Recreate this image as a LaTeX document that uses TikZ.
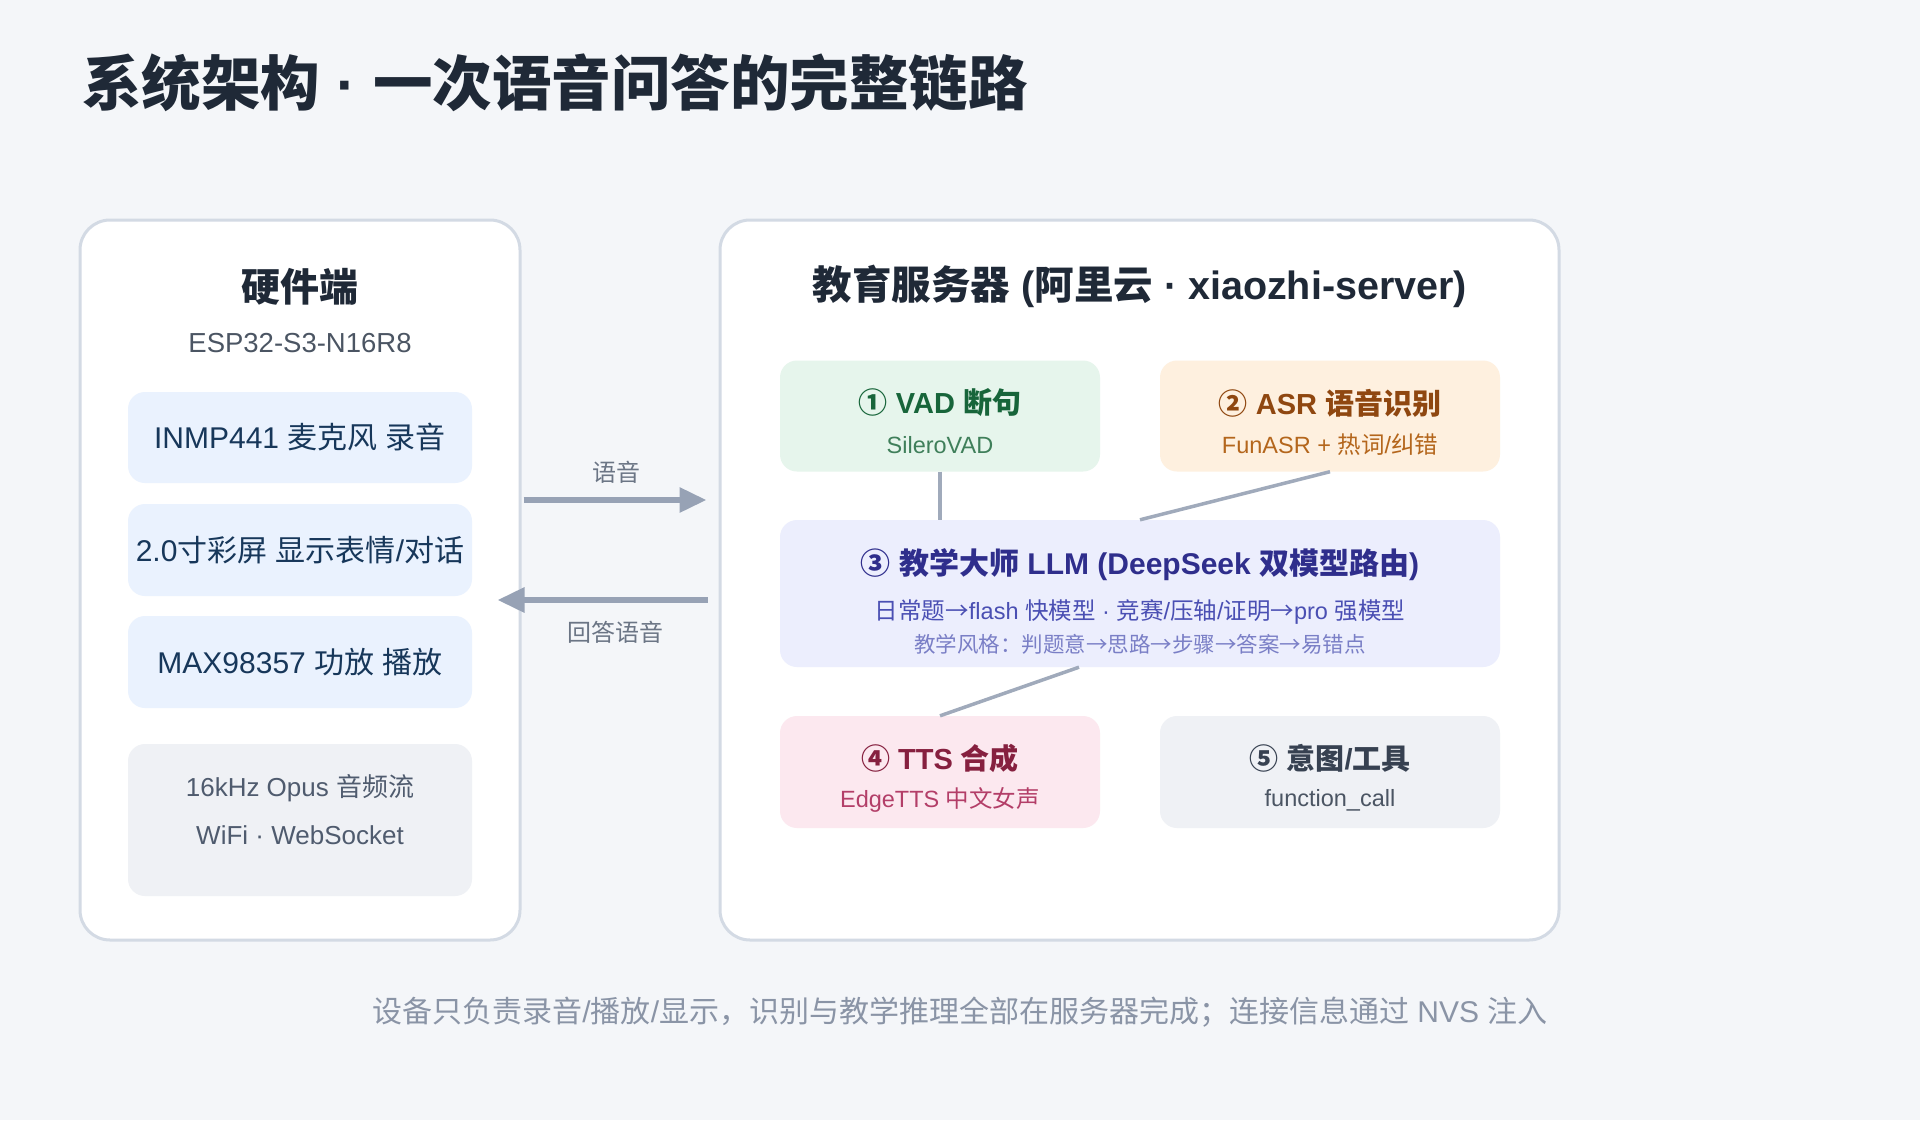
\documentclass[tikz,border=0pt]{standalone}
\usepackage{fontspec}
\setmainfont{Liberation Sans}
\newfontfamily\latfam{Liberation Sans}
\newfontfamily\cjkfam{Noto Sans CJK SC}
\usetikzlibrary{arrows.meta,calc}

\XeTeXinterchartokenstate=1
\newXeTeXintercharclass\CJKcls
\newcount\cjkcnt
\cjkcnt="2E80
\loop\ifnum\cjkcnt<"A000 \XeTeXcharclass\cjkcnt=\CJKcls \advance\cjkcnt by 1 \repeat
\cjkcnt="FF00
\loop\ifnum\cjkcnt<"FFF0 \XeTeXcharclass\cjkcnt=\CJKcls \advance\cjkcnt by 1 \repeat
\cjkcnt="2460
\loop\ifnum\cjkcnt<"2474 \XeTeXcharclass\cjkcnt=\CJKcls \advance\cjkcnt by 1 \repeat
\XeTeXcharclass"2192=\CJKcls
\XeTeXinterchartoks 0 \CJKcls={\cjkfam}
\XeTeXinterchartoks 4095 \CJKcls={\cjkfam}
\XeTeXinterchartoks \CJKcls 0={\latfam}
\XeTeXinterchartoks \CJKcls 4095={\latfam}

\definecolor{bgc}{HTML}{F4F6F9}
\definecolor{panelline}{HTML}{D3DAE4}
\definecolor{titlec}{HTML}{1F2937}
\definecolor{subgray}{HTML}{4B5563}
\definecolor{hwfill}{HTML}{EAF2FE}
\definecolor{hwtext}{HTML}{17375A}
\definecolor{grayfill}{HTML}{EFF1F5}
\definecolor{graytext}{HTML}{4F5B6E}
\definecolor{arrowc}{HTML}{97A2B5}
\definecolor{labc}{HTML}{6B7585}
\definecolor{linkc}{HTML}{A0AABB}
\definecolor{footc}{HTML}{8A94A6}
\definecolor{vadfill}{HTML}{E6F5EC}
\definecolor{vadt}{HTML}{17653A}
\definecolor{vads}{HTML}{3F7F5A}
\definecolor{asrfill}{HTML}{FEF0DF}
\definecolor{asrt}{HTML}{8F4710}
\definecolor{asrs}{HTML}{B4661C}
\definecolor{llmfill}{HTML}{ECEEFD}
\definecolor{llmt}{HTML}{2F2E8C}
\definecolor{llms}{HTML}{4A4FB3}
\definecolor{llmn}{HTML}{7A7FC6}
\definecolor{ttsfill}{HTML}{FCE8EF}
\definecolor{ttst}{HTML}{86203F}
\definecolor{ttss}{HTML}{B33E68}
\definecolor{intt}{HTML}{374151}

\tikzset{
  panel/.style={draw=panelline, line width=3pt, fill=white, rounded corners=30pt, inner sep=0pt},
  card/.style={rounded corners=17pt, inner sep=0pt},
  hwbox/.style={card, fill=hwfill, minimum width=344pt, text=hwtext, font=\fontsize{30}{34}\selectfont},
  txt/.style={inner sep=0pt},
  boxtitle/.style={txt, font=\bfseries\fontsize{29}{34}\selectfont},
  boxsub/.style={txt, font=\fontsize{23.5}{28}\selectfont},
  flow/.style={draw=arrowc, line width=6pt, -{Triangle[length=27pt,width=24pt]}},
  link/.style={draw=linkc, line width=3.5pt},
}

\begin{document}
\begin{tikzpicture}[x=1pt,y=-1pt]
\fill[bgc] (0,0) rectangle (1920,1120);
\useasboundingbox (0,0) rectangle (1920,1120);

\node[txt, anchor=west, text=titlec, font=\bfseries\fontsize{59.5}{64}\selectfont] (title) at (82,83) {系统架构 · 一次语音问答的完整链路};

% panels
\node[panel, minimum width=440pt, minimum height=720pt] (hw) at (300,580) {};
\node[panel, minimum width=839pt, minimum height=720pt] (srv) at (1139.5,580) {};

% hardware side
\node[txt, text=titlec, font=\bfseries\fontsize{39}{44}\selectfont] (hwt) at (300,287) {硬件端};
\node[txt, text=subgray, font=\fontsize{27.5}{32}\selectfont] (hws) at (300,343) {ESP32-S3-N16R8};
\node[hwbox, minimum height=91pt] (mic) at (300,437.5) {INMP441 麦克风 录音};
\node[hwbox, minimum height=92pt] (lcd) at (300,550) {2.0寸彩屏 显示表情/对话};
\node[hwbox, minimum height=92pt] (amp) at (300,662) {MAX98357 功放 播放};
\node[card, fill=grayfill, minimum width=344pt, minimum height=152pt] (net) at (300,820) {};
\node[txt, text=graytext, font=\fontsize{26}{30}\selectfont] (net1) at (300,788) {16kHz Opus 音频流};
\node[txt, text=graytext, font=\fontsize{26}{30}\selectfont] (net2) at (300,835) {WiFi · WebSocket};

% server side
\node[txt, text=titlec, font=\bfseries\fontsize{39.5}{44}\selectfont] (srvt) at (1140,286) {教育服务器 (阿里云 · xiaozhi-server)};

\node[card, fill=vadfill, minimum width=320pt, minimum height=111pt] (vad) at (940,416) {};
\node[boxtitle, text=vadt] (vadt) at (940,403) {① VAD 断句};
\node[boxsub, text=vads] (vads) at (940,445) {SileroVAD};

\node[card, fill=asrfill, minimum width=340pt, minimum height=111pt] (asr) at (1330,416) {};
\node[boxtitle, text=asrt] (asrt) at (1330,403) {② ASR 语音识别};
\node[boxsub, text=asrs] (asrs) at (1330,445) {FunASR + 热词/纠错};

\node[card, fill=llmfill, minimum width=720pt, minimum height=147pt] (llm) at (1140,593.5) {};
\node[txt, text=llmt, font=\bfseries\fontsize{30}{34}\selectfont] (llmt) at (1140,565) {③ 教学大师 LLM (DeepSeek 双模型路由)};
\node[txt, text=llms, font=\fontsize{23.5}{28}\selectfont] (llms) at (1140,612) {日常题→flash 快模型 · 竞赛/压轴/证明→pro 强模型};
\node[txt, text=llmn, font=\fontsize{21.5}{26}\selectfont] (llmn) at (1140,644) {教学风格：判题意→思路→步骤→答案→易错点};

\node[card, fill=ttsfill, minimum width=320pt, minimum height=112pt] (tts) at (940,772) {};
\node[boxtitle, text=ttst] (ttst) at (940,758) {④ TTS 合成};
\node[boxsub, text=ttss] (ttss) at (940,800) {EdgeTTS 中文女声};

\node[card, fill=grayfill, minimum width=340pt, minimum height=112pt] (intent) at (1330,772) {};
\node[boxtitle, text=intt] (intt) at (1330,758) {⑤ 意图/工具};
\node[boxsub, text=subgray] (ints) at (1330,800) {function\_call};

% connectors inside server
\draw[link] (vad.south) -- (vad.south |- llm.north);
\draw[link] (asr.south) -- (llm.north);
\draw[link] ($(llm.south)+(-61,0)$) -- (tts.north);

% arrows between panels
\coordinate (upy) at (0,500);
\coordinate (dny) at (0,600);
\draw[flow] ($(hw.east |- upy)+(2,0)$) -- ($(srv.west |- upy)+(-12,0)$);
\draw[flow] ($(srv.west |- dny)+(-11,0)$) -- ($(hw.east |- dny)+(-24,0)$);
\node[txt, text=labc, font=\fontsize{24}{28}\selectfont] (lab1) at (616,472) {语音};
\node[txt, text=labc, font=\fontsize{24}{28}\selectfont] (lab2) at (615,632) {回答语音};

% footer
\node[txt, text=footc, font=\fontsize{30}{34}\selectfont] (foot) at (960,1012) {设备只负责录音/播放/显示，识别与教学推理全部在服务器完成；连接信息通过 NVS 注入};
\end{tikzpicture}
\end{document}
